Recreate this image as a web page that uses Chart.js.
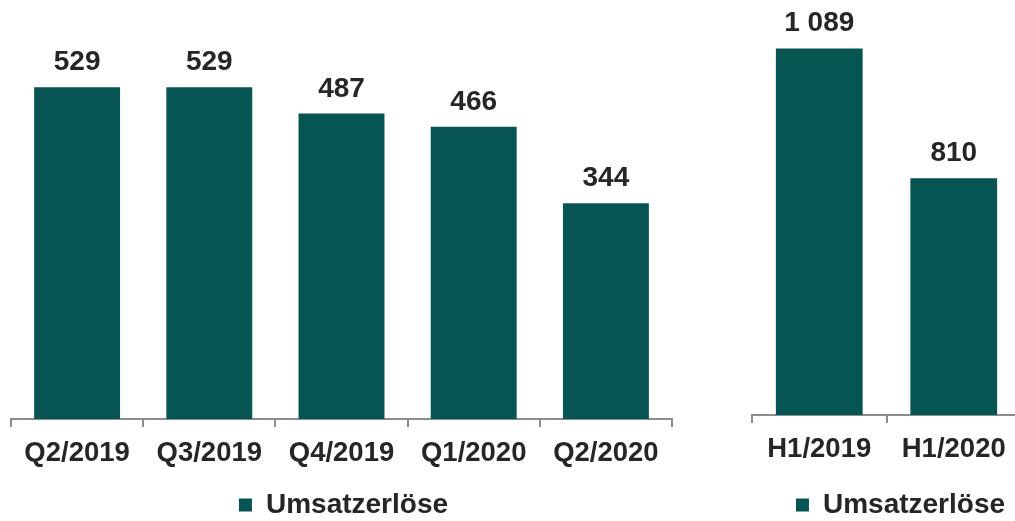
<!DOCTYPE html>
<html>
<head>
<meta charset="utf-8">
<script src="https://cdn.jsdelivr.net/npm/chart.js@4.4.0/dist/chart.umd.min.js"></script>
<style>
html, body { margin: 0; padding: 0; background: #fff; overflow: hidden; width: 1015px; height: 521px; }
canvas { position: absolute; top: 0; }
#leftChart { left: 0; }
#rightChart { left: 740px; }
</style>
</head>
<body>
<canvas id="leftChart" width="687" height="529"></canvas>
<canvas id="rightChart" width="321" height="529"></canvas>
<script>
const quarterLabels = ['Q2/2019', 'Q3/2019', 'Q4/2019', 'Q1/2020', 'Q2/2020'];
const quarterValues = [529, 529, 487, 466, 344];
const halfLabels = ['H1/2019', 'H1/2020'];
const halfValues = [1089, 810];
const seriesName = 'Umsatzerlöse';

const barColor = '#065552';
const textColor = '#262626';
const axisColor = '#8c8c8c';
const fontFamily = '"Liberation Sans", Arial, sans-serif';

function formatValue(v) {
    return String(v).replace(/\B(?=(\d{3})+(?!\d))/g, ' ');
}

const valueLabels = {
    id: 'valueLabels',
    afterDatasetsDraw(chart) {
        const ctx = chart.ctx;
        const meta = chart.getDatasetMeta(0);
        const data = chart.data.datasets[0].data;
        ctx.save();
        ctx.font = 'bold 28px ' + fontFamily;
        ctx.fillStyle = textColor;
        ctx.textAlign = 'center';
        ctx.textBaseline = 'alphabetic';
        meta.data.forEach((bar, i) => {
            ctx.fillText(formatValue(data[i]), bar.x, bar.y - 17);
        });
        ctx.restore();
    }
};

function createChart(id, labels, values, yMin, yMax, axisHeight, leftPad, rightPad, barPct) {
    const ctx = document.getElementById(id);

    return new Chart(ctx, {
        type: 'bar',
        data: {
            labels: labels,
            datasets: [{
                label: seriesName,
                data: values,
                backgroundColor: barColor,
                borderColor: barColor,
                borderWidth: 0,
                categoryPercentage: 1,
                barPercentage: barPct
            }]
        },
        options: {
            responsive: false,
            animation: false,
            devicePixelRatio: 1,
            layout: { padding: 0 },
            plugins: {
                tooltip: { enabled: false },
                legend: {
                    position: 'bottom',
                    labels: {
                        boxWidth: 13,
                        boxHeight: 13,
                        padding: 10,
                        color: textColor,
                        font: { size: 28, weight: 'bold', family: fontFamily }
                    }
                }
            },
            scales: {
                x: {
                    grid: {
                        offset: true,
                        drawOnChartArea: false,
                        drawTicks: true,
                        tickLength: 8,
                        color: axisColor,
                        lineWidth: 2
                    },
                    border: { display: true, color: axisColor, width: 2 },
                    ticks: {
                        color: textColor,
                        padding: 10,
                        maxRotation: 0,
                        autoSkip: false,
                        font: { size: 27.5, weight: 'bold', family: fontFamily }
                    },
                    afterFit(scale) { scale.height = axisHeight; }
                },
                y: {
                    min: yMin,
                    max: yMax,
                    ticks: { display: false },
                    grid: { display: false },
                    border: { display: false },
                    afterFit(scale) { scale.width = leftPad; }
                },
                y2: {
                    type: 'linear',
                    position: 'right',
                    ticks: { display: false },
                    grid: { display: false },
                    border: { display: false },
                    afterFit(scale) { scale.width = rightPad; }
                }
            }
        },
        plugins: [valueLabels]
    });
}

createChart('leftChart', quarterLabels, quarterValues, 0, 668, 62, 11, 15, 0.65);
createChart('rightChart', halfLabels, halfValues, 301, 1193, 66, 12, 40, 0.645);
</script>
</body>
</html>
